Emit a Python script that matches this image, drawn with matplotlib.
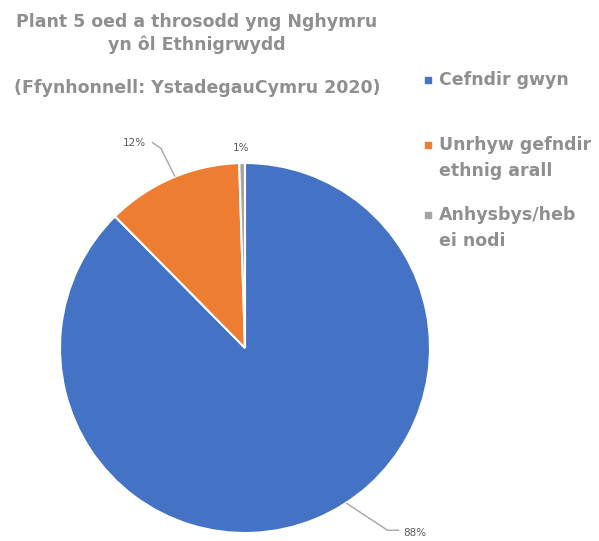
import numpy as np
import matplotlib
matplotlib.use("Agg")
import matplotlib.pyplot as plt
from matplotlib.lines import Line2D

# data
labels = ["Cefndir gwyn", "Unrhyw gefndir\nethnig arall", "Anhysbys/heb\nei nodi"]
values = [87.6, 11.9, 0.5]
pct_text = ["88%", "12%", "1%"]
colors = ["#4472C4", "#ED7D31", "#A5A5A5"]

W, H = 599, 541
fig = plt.figure(figsize=(W / 100, H / 100), dpi=100)

# pie axes: centre (245, 348) px, radius 185 px
cx, cy, r = 245, 348, 185
ax = fig.add_axes([(cx - r) / W, (H - cy - r) / H, 2 * r / W, 2 * r / H])
wedges, _ = ax.pie(values, colors=colors, startangle=90, counterclock=False,
                   wedgeprops=dict(edgecolor="white", linewidth=1.5))
ax.set_xlim(-1, 1)
ax.set_ylim(-1, 1)
ax.set_aspect("auto")
ax.axis("off")

# data labels with leader lines (text positions in pie units)
txt_pos = [(0.92, -1.0), (-0.60, 1.11), (-0.02, 1.08)]
line_col = "#a6a6a6"
for w, t, (tx, ty) in zip(wedges, pct_text, txt_pos):
    if t == "88%":
        ax.plot([0.55, 0.77, 0.83], [-0.84, -0.985, -0.985], color=line_col, lw=1, clip_on=False)
    elif t == "12%":
        ax.plot([-0.50, -0.455, -0.38], [1.11, 1.08, 0.93], color=line_col, lw=1, clip_on=False)
    ax.text(tx, ty, t, ha="center", va="center", fontsize=7.5, color="#595959",
            family="DejaVu Sans", clip_on=False)

# title
title_kw = dict(ha="center", va="center", color="#8f8f8f", fontsize=12.5,
                fontweight="bold", family="DejaVu Sans")
fig.text(197 / W, 1 - 22 / H, "Plant 5 oed a throsodd yng Nghymru", **title_kw)
fig.text(197 / W, 1 - 45 / H, "yn ôl Ethnigrwydd", **title_kw)
fig.text(197 / W, 1 - 88 / H, "(Ffynhonnell: YstadegauCymru 2020)", **title_kw)

# legend drawn by hand to match the spacing
leg_y = [80, 145, 215]
for lab, col, y in zip(labels, colors, leg_y):
    fig.add_artist(Line2D([428 / W], [1 - y / H], marker="s", markersize=5,
                          color=col, transform=fig.transFigure))
    fig.text(439 / W, 1 - (y - 9) / H, lab, ha="left", va="top", color="#8f8f8f",
             fontsize=12.5, fontweight="bold", family="DejaVu Sans", linespacing=1.6)

fig.savefig("out.png", dpi=100)
